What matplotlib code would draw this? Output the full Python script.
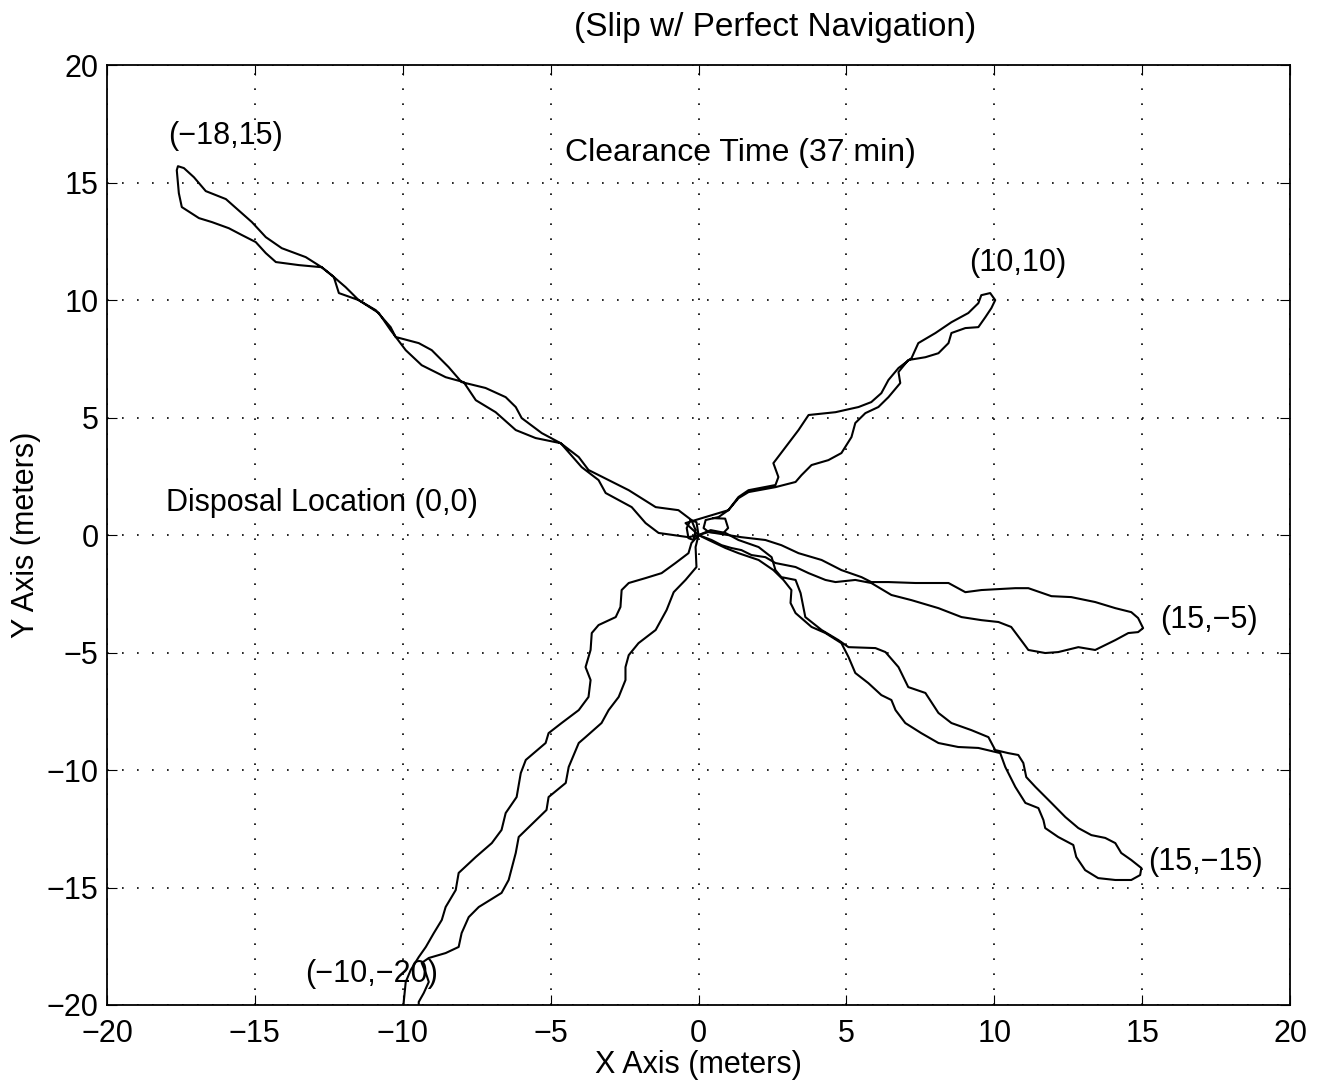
import matplotlib.pyplot as plt
import numpy as np

plt.rcParams['font.family'] = ['Liberation Sans', 'DejaVu Sans']

# robot paths (meters)
nw_x = [0, -0.34, -1.35, -1.79, -2.26, -3.14, -3.38, -3.95, -4.66, -5.51, -6.18, -6.86, -7.53,
        -7.94, -8.55, -9.36, -9.90, -10.41, -10.81, -11.49, -12.16, -12.33, -12.74, -13.51,
        -14.29, -14.63, -14.97, -15.44, -15.88, -16.45, -16.89, -17.47, -17.57, -17.64, -17.60,
        -17.40, -17.06, -16.66, -15.98, -15.10, -14.63, -14.09, -13.28, -12.74, -12.40, -11.93,
        -11.49, -10.91, -10.41, -10.24, -9.46, -9.02, -8.45, -8.01, -7.20, -6.52, -6.18, -5.98,
        -5.30, -4.66, -4.05, -3.72, -3.04, -2.36, -1.45, -0.68, -0.24, -0.10, -0.17, -0.34,
        -0.40, -0.27, -0.07, 0]
nw_y = [0, -0.09, 0.09, 0.51, 1.19, 1.79, 2.34, 2.89, 3.91, 4.13, 4.47, 5.23, 5.74,
        6.51, 6.72, 7.23, 7.87, 8.72, 9.45, 10.00, 10.30, 10.98, 11.40, 11.49,
        11.62, 12.00, 12.47, 12.77, 13.06, 13.32, 13.49, 13.96, 14.55, 15.53, 15.70,
        15.62, 15.23, 14.64, 14.30, 13.32, 12.68, 12.21, 11.83, 11.40, 11.06, 10.55,
        10.00, 9.57, 8.85, 8.43, 8.17, 7.87, 7.15, 6.51, 6.26, 5.87, 5.45, 4.98,
        4.34, 3.91, 3.32, 2.77, 2.34, 1.91, 1.19, 1.06, 0.64, 0.21, -0.21, -0.13,
        0.30, 0.64, 0.55, 0]

ne_x = [0, -0.44, -0.10, 1.01, 1.35, 1.69, 2.60, 2.70, 2.53, 2.94, 3.38, 3.72, 4.63, 5.41,
        5.84, 6.18, 6.42, 6.76, 7.20, 7.43, 8.01, 8.55, 9.12, 9.46, 9.56, 9.86, 10.03, 9.90,
        9.70, 9.46, 9.02, 8.55, 8.45, 8.11, 7.67, 7.09, 6.76, 6.82, 6.42, 6.08, 5.64, 5.30,
        5.17, 4.83, 4.39, 3.82, 3.48, 3.28, 2.60, 1.69, 1.35, 1.01, 0.68, 0.24, 0.17, 0.34,
        0.84, 1.00, 0.90, 0.50]
ne_y = [0, 0.51, 0.64, 1.06, 1.62, 1.91, 2.13, 2.47, 3.06, 3.74, 4.47, 5.11, 5.23, 5.45,
        5.66, 6.04, 6.60, 7.11, 7.53, 8.17, 8.60, 9.06, 9.45, 9.87, 10.21, 10.30, 10.00, 9.66,
        9.28, 8.85, 8.81, 8.60, 8.17, 7.74, 7.57, 7.45, 6.94, 6.47, 5.87, 5.45, 5.19, 4.77,
        4.17, 3.49, 3.19, 2.98, 2.55, 2.26, 2.04, 1.83, 1.57, 1.06, 0.77, 0.64, 0.30, 0.13,
        0.09, 0.30, 0.70, 0.72]

e_x = [0, 0.34, 1.45, 2.26, 2.80, 3.38, 4.16, 4.83, 5.51, 5.84, 6.42, 7.33, 8.45, 9.02,
       9.56, 10.71, 11.15, 11.93, 12.60, 13.41, 14.09, 14.63, 14.86, 15.03, 14.86, 14.53,
       14.09, 13.41, 12.84, 12.16, 11.72, 11.15, 10.98, 10.57, 10.14, 9.56, 8.89, 8.11,
       7.20, 6.52, 5.84, 5.30, 4.63, 4.29, 3.72, 3.28, 2.60, 2.26, 1.79, 1.45, 1.11, 0.78,
       0.44, 0]
e_y = [0, 0.13, -0.09, -0.21, -0.43, -0.77, -1.06, -1.49, -1.79, -2.00, -2.00, -2.04, -2.04,
       -2.43, -2.34, -2.26, -2.26, -2.60, -2.64, -2.85, -3.11, -3.28, -3.53, -3.96, -4.13,
       -4.17, -4.47, -4.89, -4.77, -4.98, -5.02, -4.89, -4.60, -3.91, -3.70, -3.62, -3.49,
       -3.11, -2.77, -2.55, -2.04, -1.91, -2.00, -1.91, -1.62, -1.36, -1.19, -0.94, -0.85,
       -0.64, -0.55, -0.43, -0.21, 0]

se_x = [0, 0.34, 0.91, 1.35, 2.03, 2.53, 2.87, 3.14, 3.11, 3.28, 3.82, 4.29, 4.83, 5.07,
        5.30, 5.74, 6.18, 6.52, 6.66, 6.99, 7.53, 8.11, 8.78, 9.46, 10.20, 10.37, 10.71,
        11.05, 11.49, 11.66, 11.72, 12.16, 12.67, 12.77, 13.07, 13.51, 14.09, 14.63, 14.93,
        14.97, 14.63, 14.29, 14.09, 13.75, 13.28, 12.84, 12.40, 11.93, 11.39, 11.08, 10.98,
        10.81, 10.47, 10.03, 9.80, 9.22, 8.55, 8.11, 7.67, 7.09, 6.76, 6.32, 5.98, 5.07,
        4.73, 4.16, 3.61, 3.45, 3.28, 2.80, 2.60, 2.47, 2.03, 1.35, 0.91, 0.41, 0]
se_y = [0, -0.21, -0.55, -0.77, -1.06, -1.49, -1.91, -2.34, -2.89, -3.32, -3.91, -4.17, -4.60,
        -5.19, -5.87, -6.30, -6.81, -7.02, -7.45, -8.00, -8.43, -8.85, -9.02, -9.06, -9.28,
        -9.87, -10.72, -11.40, -11.62, -12.13, -12.47, -12.85, -13.19, -13.70, -14.26, -14.60,
        -14.68, -14.68, -14.47, -14.17, -13.83, -13.53, -13.11, -12.89, -12.77, -12.47, -12.00,
        -11.40, -10.72, -10.30, -9.70, -9.36, -9.28, -9.15, -8.60, -8.30, -8.00, -7.57, -6.72,
        -6.47, -5.62, -4.98, -4.81, -4.77, -4.47, -4.04, -3.49, -2.47, -1.91, -1.79, -1.49,
        -0.94, -0.51, -0.21, 0.09, 0.21, 0]

sw_x = [0, -0.24, -0.34, -0.78, -1.25, -1.79, -2.36, -2.60, -2.64, -2.80, -3.38, -3.61, -3.65,
        -3.82, -3.65, -3.72, -4.05, -4.63, -5.07, -5.17, -5.84, -6.01, -6.15, -6.52, -6.66,
        -6.99, -7.53, -8.11, -8.21, -8.55, -8.68, -8.95, -9.22, -9.46, -9.73, -9.90, -9.97,
        -9.97, -9.46, -9.46, -9.29, -9.12, -9.22, -9.36, -9.12, -8.55, -8.11, -8.01, -7.77,
        -7.43, -6.66, -6.42, -6.18, -6.08, -5.14, -5.07, -4.49, -4.39, -4.05, -3.82, -3.28,
        -3.04, -2.70, -2.47, -2.47, -2.36, -2.03, -1.45, -1.08, -0.84, -0.44, -0.07, -0.10, 0]
sw_y = [0, -0.34, -0.77, -1.19, -1.62, -1.83, -2.04, -2.34, -3.06, -3.49, -3.83, -4.17, -4.89,
        -5.62, -6.17, -6.89, -7.45, -8.00, -8.43, -8.85, -9.57, -10.13, -11.15, -11.83, -12.55,
        -13.11, -13.70, -14.38, -15.11, -15.83, -16.38, -16.94, -17.53, -17.96, -18.51, -19.02,
        -19.91, -20.30, -20.30, -19.87, -19.49, -19.02, -18.64, -18.21, -18.00, -17.79, -17.53,
        -16.94, -16.26, -15.83, -15.23, -14.68, -13.53, -12.85, -11.70, -11.15, -10.55, -9.87,
        -8.85, -8.60, -8.00, -7.45, -6.89, -6.17, -5.62, -5.11, -4.60, -4.04, -3.19, -2.43,
        -1.91, -1.36, -0.51, 0]

paths = [(nw_x, nw_y), (ne_x, ne_y), (e_x, e_y), (se_x, se_y), (sw_x, sw_y)]

ticks = [-20, -15, -10, -5, 0, 5, 10, 15, 20]
tick_labels = ['\u221220', '\u221215', '\u221210', '\u22125', '0', '5', '10', '15', '20']

fig = plt.figure(figsize=(13.19, 10.86), dpi=100)
ax = fig.add_axes([0.0811, 0.0746, 0.897, 0.8654])

for px, py in paths:
    ax.plot(px, py, color='black', linewidth=1.5, solid_joinstyle='round')

ax.set_xlim(-20, 20)
ax.set_ylim(-20, 20)
ax.set_xticks(ticks)
ax.set_yticks(ticks)
ax.set_xticklabels(tick_labels)
ax.set_yticklabels(tick_labels)
ax.tick_params(direction='in', length=7, labelsize=22, top=True, right=True)
ax.tick_params(axis='x', pad=10)
ax.tick_params(axis='y', pad=6)
ax.grid(True, color='black', linestyle=(0, (1, 8)), linewidth=1.2)
for s in ax.spines.values():
    s.set_linewidth(1.3)

ax.set_xlabel('X Axis (meters)', fontsize=22, labelpad=1)
ax.set_ylabel('Y Axis (meters)', fontsize=22, labelpad=4)

fig.text(0.588, 0.975, '(Slip w/ Perfect Navigation)', fontsize=24, ha='center', va='center')

fs = 22
ax.text(-16.0, 17.0, '(\u221218,15)', fontsize=fs, ha='center', va='center')
ax.text(-4.5, 16.25, 'Clearance Time (37 min)', fontsize=23, ha='left', va='center')
ax.text(10.8, 11.6, '(10,10)', fontsize=fs, ha='center', va='center')
ax.text(-18.0, 1.36, 'Disposal Location (0,0)', fontsize=fs, ha='left', va='center')
ax.text(15.6, -3.62, '(15,\u22125)', fontsize=fs, ha='left', va='center')
ax.text(15.2, -13.9, '(15,\u221215)', fontsize=fs, ha='left', va='center')
ax.text(-13.3, -18.7, '(\u221210,\u221220)', fontsize=fs, ha='left', va='center')

fig.savefig('out.png', dpi=100)
